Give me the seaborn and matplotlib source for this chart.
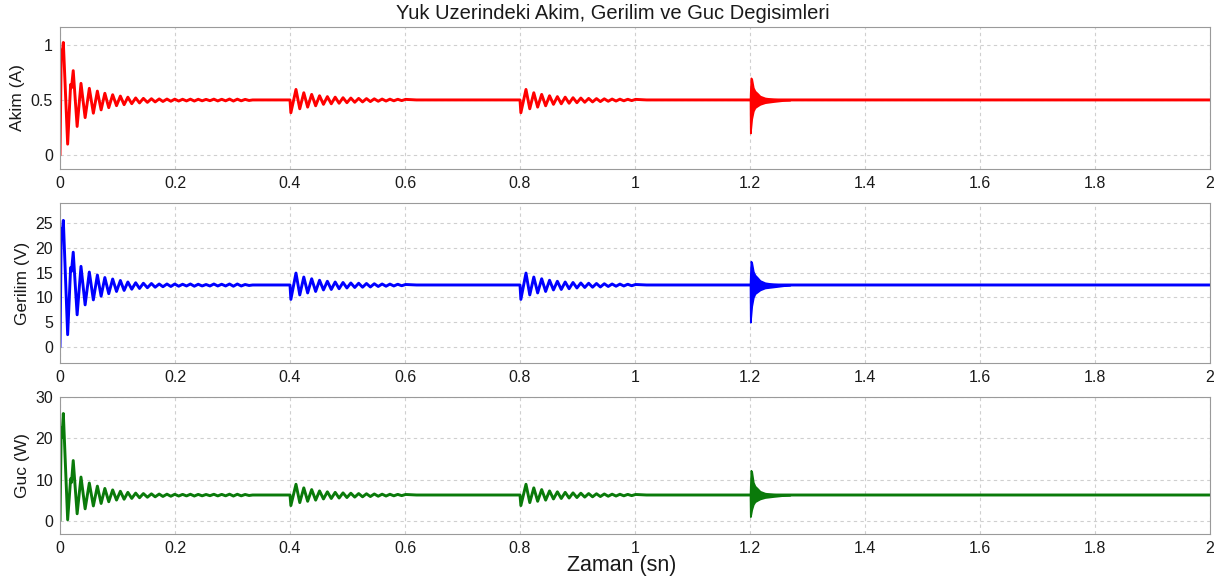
import numpy as np
import pandas as pd
import matplotlib
matplotlib.use("Agg")
import matplotlib.pyplot as plt
import seaborn as sns

# ---------------------------------------------------------------- data ----
# Start-up transient: turning points (time, value) of each trace.
startup_t = [
    0.0000, 0.0022, 0.0035, 0.0058, 0.0133, 0.0185, 0.0200, 0.0230, 0.0298, 0.0365,
    0.0437, 0.0510, 0.0580, 0.0650, 0.0715, 0.0780, 0.0848, 0.0916, 0.0983, 0.1050,
    0.1115, 0.1180, 0.1248, 0.1316, 0.1383, 0.1450, 0.1520, 0.1590, 0.1655, 0.1725,
    0.1790, 0.1860, 0.1928, 0.1996, 0.2064, 0.2132, 0.2200, 0.2268, 0.2336, 0.2404,
    0.2472, 0.2540, 0.2608, 0.2676, 0.2744, 0.2812, 0.2880, 0.2948, 0.3016, 0.3084,
    0.3152, 0.3220, 0.3288, 0.3350,
]
akim_startup = [
    0.00, 0.95, 0.90, 1.02, 0.10, 0.64, 0.61, 0.765, 0.26, 0.65,
    0.34, 0.605, 0.38, 0.58, 0.41, 0.56, 0.43, 0.547, 0.448, 0.535,
    0.457, 0.525, 0.466, 0.518, 0.473, 0.514, 0.478, 0.511, 0.482, 0.509,
    0.486, 0.508, 0.488, 0.507, 0.490, 0.506, 0.491, 0.507, 0.490, 0.506,
    0.492, 0.505, 0.493, 0.507, 0.491, 0.506, 0.492, 0.508, 0.490, 0.507,
    0.492, 0.505, 0.495, 0.500,
]
gerilim_startup = [
    0.0, 23.75, 22.5, 25.5, 2.5, 16.0, 15.25, 19.1, 6.5, 16.25,
    8.5, 15.1, 9.5, 14.5, 10.25, 14.0, 10.75, 13.7, 11.2, 13.4,
    11.4, 13.1, 11.65, 12.95, 11.8, 12.85, 11.95, 12.8, 12.05, 12.7,
    12.15, 12.7, 12.2, 12.7, 12.25, 12.65, 12.3, 12.7, 12.25, 12.65,
    12.3, 12.6, 12.3, 12.7, 12.3, 12.65, 12.3, 12.7, 12.25, 12.7,
    12.3, 12.6, 12.4, 12.5,
]
guc_startup = [
    0.0, 22.6, 20.25, 26.0, 0.25, 10.2, 9.3, 14.6, 1.7, 10.6,
    2.9, 9.15, 3.6, 8.4, 4.2, 7.84, 4.62, 7.48, 5.02, 7.16,
    5.22, 6.89, 5.43, 6.71, 5.59, 6.6, 5.71, 6.53, 5.81, 6.48,
    5.9, 6.45, 5.95, 6.43, 6.0, 6.4, 6.03, 6.43, 6.0, 6.4,
    6.05, 6.38, 6.08, 6.43, 6.03, 6.4, 6.05, 6.45, 6.0, 6.43,
    6.05, 6.38, 6.13, 6.25,
]

# Load-step transients at 0.4 s and 0.8 s (same response at both instants).
step_onsets = [0.4, 0.8]
step_dt = [
    0.0000, 0.0015, 0.0104, 0.0170, 0.0240, 0.0307, 0.0377, 0.0446, 0.0514, 0.0582,
    0.0650, 0.0718, 0.0786, 0.0854, 0.0922, 0.0990, 0.1058, 0.1126, 0.1194, 0.1262,
    0.1330, 0.1398, 0.1466, 0.1534, 0.1602, 0.1670, 0.1738, 0.1806, 0.1874, 0.1942,
    0.2010, 0.2200,
]
akim_step = [
    0.500, 0.384, 0.595, 0.420, 0.565, 0.435, 0.550, 0.447, 0.538, 0.460,
    0.530, 0.465, 0.525, 0.470, 0.520, 0.475, 0.517, 0.479, 0.514, 0.482,
    0.512, 0.485, 0.510, 0.488, 0.508, 0.490, 0.507, 0.492, 0.506, 0.494,
    0.505, 0.500,
]
gerilim_step = [
    12.5, 9.6, 14.9, 10.5, 14.1, 10.9, 13.75, 11.2, 13.45, 11.5,
    13.25, 11.6, 13.1, 11.75, 13.0, 11.9, 12.9, 12.0, 12.85, 12.05,
    12.8, 12.1, 12.75, 12.2, 12.7, 12.25, 12.68, 12.3, 12.65, 12.35,
    12.6, 12.5,
]
guc_step = [
    6.25, 3.69, 8.85, 4.41, 7.98, 4.73, 7.56, 5.0, 7.24, 5.29,
    7.02, 5.41, 6.89, 5.52, 6.76, 5.64, 6.68, 5.74, 6.6, 5.81,
    6.55, 5.88, 6.5, 5.95, 6.45, 6.0, 6.43, 6.05, 6.4, 6.1,
    6.38, 6.25,
]

# Fast burst at 1.2 s: upper / lower envelope of the oscillation.
burst_t = [1.2000, 1.2005, 1.2015, 1.2030, 1.2058, 1.2087, 1.2128, 1.2174,
           1.2261, 1.2406, 1.2580, 1.2700]
akim_burst_hi = [0.50, 0.58, 0.70, 0.69, 0.61, 0.58, 0.56, 0.535, 0.518, 0.508, 0.502, 0.50]
akim_burst_lo = [0.50, 0.20, 0.25, 0.33, 0.40, 0.43, 0.445, 0.46, 0.475, 0.485, 0.495, 0.50]
gerilim_burst_hi = [12.5, 14.5, 17.3, 17.0, 15.2, 14.5, 14.0, 13.4, 12.95, 12.7, 12.55, 12.5]
gerilim_burst_lo = [12.5, 5.0, 6.25, 8.25, 10.0, 10.75, 11.1, 11.5, 11.9, 12.1, 12.35, 12.5]
guc_burst_hi = [6.25, 8.4, 12.25, 11.9, 9.3, 8.4, 7.84, 7.16, 6.7, 6.45, 6.3, 6.25]
guc_burst_lo = [6.25, 1.0, 1.56, 2.72, 4.0, 4.62, 4.95, 5.29, 5.64, 5.88, 6.13, 6.25]

# Steady state from the burst onset to the end of the run.
tail_t = [1.2, 2.0]
akim_tail = [0.5, 0.5]
gerilim_tail = [12.5, 12.5]
guc_tail = [6.25, 6.25]

x_ticks = [0, 0.2, 0.4, 0.6, 0.8, 1.0, 1.2, 1.4, 1.6, 1.8, 2.0]
x_tick_labels = ["0", "0.2", "0.4", "0.6", "0.8", "1", "1.2", "1.4", "1.6", "1.8", "2"]


def build_trace(start_vals, step_vals, tail_vals):
    t = list(startup_t)
    v = list(start_vals)
    for t0 in step_onsets:
        t += [t0 + d for d in step_dt]
        v += list(step_vals)
    t += tail_t
    v += list(tail_vals)
    return pd.DataFrame({"t": t, "v": v})


panels = [
    dict(df=build_trace(akim_startup, akim_step, akim_tail),
         hi=akim_burst_hi, lo=akim_burst_lo, color="#ff0000",
         ylabel="Akim (A)", ylim=(-0.125, 1.16),
         yticks=[0, 0.5, 1], yticklabels=["0", "0.5", "1"]),
    dict(df=build_trace(gerilim_startup, gerilim_step, gerilim_tail),
         hi=gerilim_burst_hi, lo=gerilim_burst_lo, color="#0000ff",
         ylabel="Gerilim (V)", ylim=(-3.2, 29.0),
         yticks=[0, 5, 10, 15, 20, 25], yticklabels=["0", "5", "10", "15", "20", "25"]),
    dict(df=build_trace(guc_startup, guc_step, guc_tail),
         hi=guc_burst_hi, lo=guc_burst_lo, color="#0a7a0a",
         ylabel="Guc (W)", ylim=(-3.2, 30.0),
         yticks=[0, 10, 20, 30], yticklabels=["0", "10", "20", "30"]),
]

# -------------------------------------------------------------- styling ---
sns.set_theme(style="white")
plt.rcParams["font.family"] = ["Liberation Sans", "DejaVu Sans"]
plt.rcParams["axes.edgecolor"] = "#9a9a9a"
plt.rcParams["axes.linewidth"] = 0.8

fig = plt.figure(figsize=(12.2, 5.78), dpi=100)
fig.patch.set_facecolor("white")

W, H = 1220.0, 578.0
boxes = [(27, 169), (203, 363), (397, 534)]  # top / bottom pixel rows
left, right = 60, 1210

axes = []
for (top, bot), p in zip(boxes, panels):
    ax = fig.add_axes([left / W, 1 - bot / H, (right - left) / W, (bot - top) / H])
    sns.lineplot(data=p["df"], x="t", y="v", sort=False, estimator=None,
                 color=p["color"], linewidth=2.1, ax=ax)
    ax.fill_between(burst_t, p["lo"], p["hi"], color=p["color"],
                    linewidth=1.2, edgecolor=p["color"])
    ax.set_xlim(0, 2)
    ax.set_ylim(*p["ylim"])
    ax.set_xticks(x_ticks)
    ax.set_xticklabels(x_tick_labels)
    ax.set_yticks(p["yticks"])
    ax.set_yticklabels(p["yticklabels"])
    ax.set_xlabel("")
    ax.set_ylabel(p["ylabel"], fontsize=12.5, color="#1a1a1a", labelpad=4)
    ax.grid(True, linestyle=(0, (3, 3)), color="#cfcfcf", linewidth=0.8)
    ax.set_axisbelow(True)
    ax.tick_params(axis="both", direction="in", length=4, width=0.7,
                   color="#8a8a8a", labelsize=11.5, labelcolor="#1a1a1a", pad=5)
    for s in ax.spines.values():
        s.set_color("#9a9a9a")
    axes.append(ax)

axes[0].set_title("Yuk Uzerindeki Akim, Gerilim ve Guc Degisimleri",
                  fontsize=14.5, color="#1a1a1a", pad=6, x=0.481)
axes[-1].set_xlabel("Zaman (sn)", fontsize=15.5, color="#1a1a1a", labelpad=1)
axes[-1].xaxis.set_label_coords(0.488, -0.155)

fig.savefig("out.png", dpi=100, facecolor="white")
